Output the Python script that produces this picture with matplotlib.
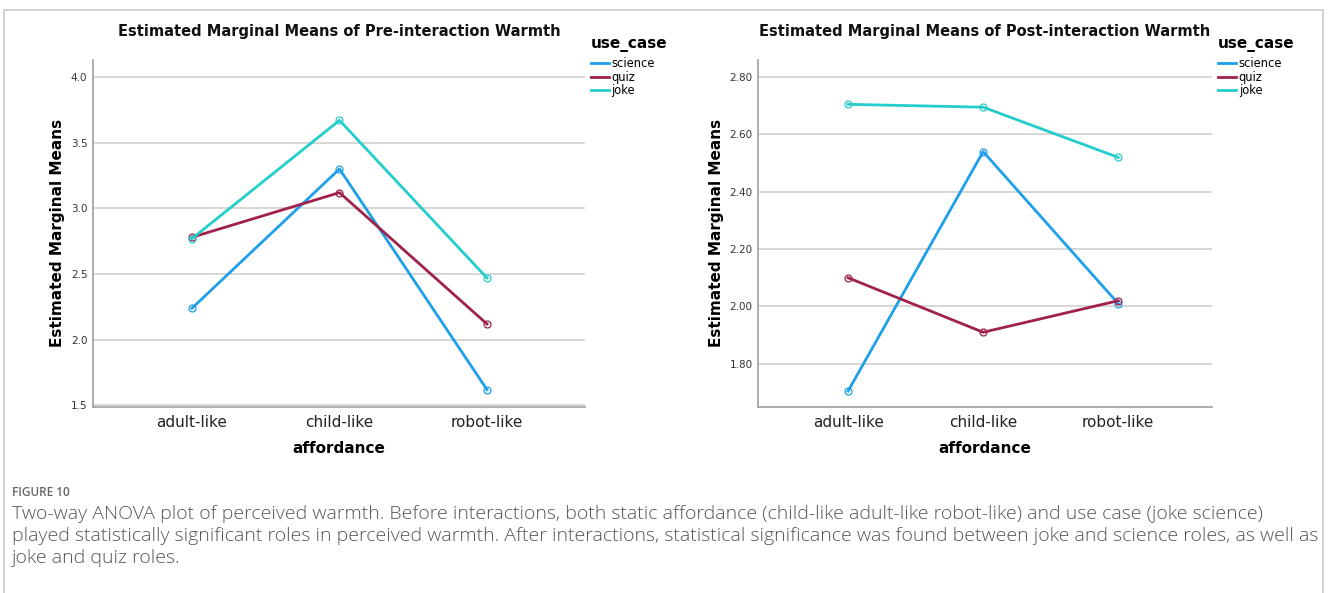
import matplotlib
matplotlib.use("Agg")
import matplotlib.pyplot as plt
from matplotlib.lines import Line2D
from matplotlib.patches import Rectangle

# 데이터
affordance = ["adult-like", "child-like", "robot-like"]
use_cases = ["science", "quiz", "joke"]
colors = ["#1E9FEA", "#A0214C", "#22CDCB"]

pre_science = [2.24, 3.30, 1.62]
pre_quiz = [2.78, 3.12, 2.12]
pre_joke = [2.77, 3.67, 2.47]

post_science = [1.705, 2.54, 2.01]
post_quiz = [2.10, 1.91, 2.02]
post_joke = [2.705, 2.695, 2.52]

pre_ticks = [1.5, 2.0, 2.5, 3.0, 3.5, 4.0]
post_ticks = [1.80, 2.00, 2.20, 2.40, 2.60, 2.80]

plt.rcParams["font.family"] = ["DejaVu Sans"]


def draw_panel(ax, series, title, ticks, fmt, ylim, xlim):
    for vals, c in zip(series, colors):
        ax.plot(range(len(affordance)), vals, color=c, lw=2.0,
                marker="o", markersize=5, markerfacecolor="none",
                markeredgewidth=0.9, zorder=3)
    ax.set_xlim(*xlim)
    ax.set_ylim(*ylim)
    ax.set_yticks(ticks)
    ax.set_yticklabels([fmt.format(t) for t in ticks], fontsize=7.5, color="#333333")
    ax.set_xticks(range(len(affordance)))
    ax.set_xticklabels(affordance, fontsize=11, color="#222222")
    ax.tick_params(length=0, pad=4)
    ax.tick_params(axis="x", pad=6)
    ax.grid(axis="y", color="#d4d4d4", lw=1.3, zorder=0)
    for s in ["top", "right"]:
        ax.spines[s].set_visible(False)
    for s in ["left", "bottom"]:
        ax.spines[s].set_color("#a0a0a0")
        ax.spines[s].set_linewidth(1.2)
    ax.set_title(title, fontsize=10.5, fontweight="bold", pad=17, color="#111111")
    ax.set_xlabel("affordance", fontsize=11, fontweight="bold", labelpad=8)
    ax.set_ylabel("Estimated Marginal Means", fontsize=11, fontweight="bold", labelpad=4)
    handles = [Line2D([], [], color=c, lw=2.0) for c in colors]
    leg = ax.legend(handles, use_cases, loc="upper left", bbox_to_anchor=(0.995, 1.093),
                    frameon=False, title="use_case", fontsize=8.3, handlelength=1.6,
                    handletextpad=0.2, labelspacing=0.05, borderaxespad=0.3,
                    alignment="left")
    leg.get_title().set_fontweight("bold")
    leg.get_title().set_fontsize(11)
    leg._legend_box.sep = 4


fig = plt.figure(figsize=(13.28, 5.93), dpi=100)

ax1 = fig.add_axes([0.070, 0.314, 0.3705, 0.585])
draw_panel(ax1, [pre_science, pre_quiz, pre_joke],
           "Estimated Marginal Means of Pre-interaction Warmth",
           pre_ticks, "{:.1f}", (1.49, 4.13), (-0.671, 2.664))

ax2 = fig.add_axes([0.5708, 0.314, 0.342, 0.585])
draw_panel(ax2, [post_science, post_quiz, post_joke],
           "Estimated Marginal Means of Post-interaction Warmth",
           post_ticks, "{:.2f}", (1.65, 2.86), (-0.667, 2.696))

# 테두리
fig.patches.append(Rectangle((4 / 1328, -0.05), 1319 / 1328, 1.05 - 10 / 593,
                             transform=fig.transFigure, fill=False,
                             edgecolor="#c8c8c8", lw=1.2))

# 캡션
fig.text(12 / 1328, 1 - 492 / 593, "FIGURE 10", fontsize=8.5, color="#666666",
         family="Open Sans", fontweight="semibold", va="center")
caption = [
    "Two-way ANOVA plot of perceived warmth. Before interactions, both static affordance (child-like adult-like robot-like) and use case (joke science)",
    "played statistically significant roles in perceived warmth. After interactions, statistical significance was found between joke and science roles, as well as",
    "joke and quiz roles.",
]
for i, line in enumerate(caption):
    fig.text(12 / 1328, 1 - (514 + 22 * i) / 593, line, fontsize=14.0,
             color="#555555", family="Open Sans", fontweight="light", va="center")

fig.savefig("out.png", dpi=100, facecolor="white")
